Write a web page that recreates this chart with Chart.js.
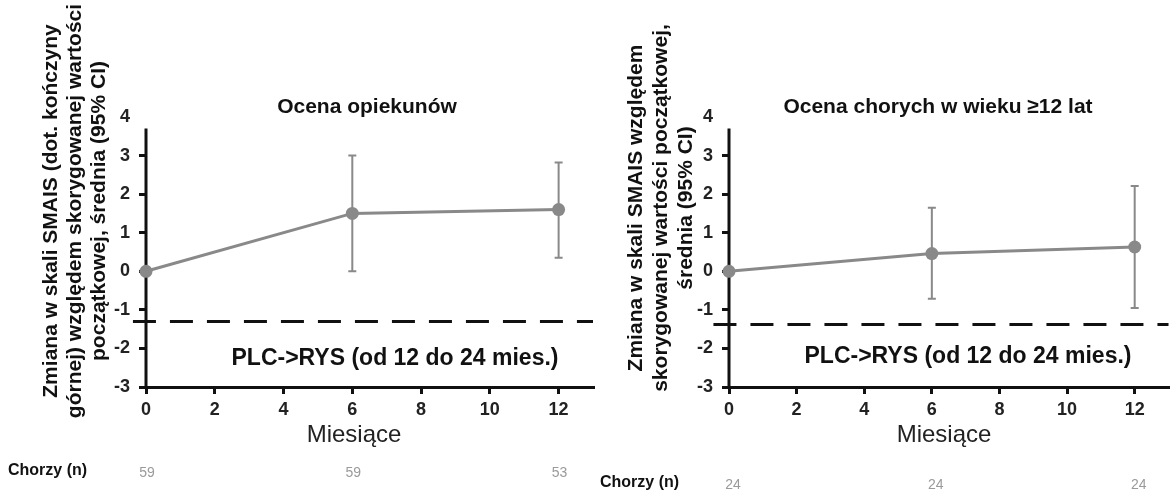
<!DOCTYPE html>
<html>
<head>
<meta charset="utf-8">
<script src="https://cdn.jsdelivr.net/npm/chart.js@4.4.1/dist/chart.umd.min.js"></script>
<style>
  html, body { margin: 0; padding: 0; background: #fff; }
  #wrap { position: relative; width: 1175px; height: 495px; overflow: hidden; }
  #left { position: absolute; left: 0; top: 0; }
  #right { position: absolute; left: 590px; top: 0; }
</style>
</head>
<body>
<div id="wrap">
  <canvas id="left" width="600" height="495"></canvas>
  <canvas id="right" width="585" height="495"></canvas>
</div>
<script>
/* ======== DATA ======== */
const months = [0, 6, 12];
const xTicks = [0, 2, 4, 6, 8, 10, 12];
const yTicks = [-3, -2, -1, 0, 1, 2, 3, 4];

// caregiver rating (left)
const caregiverMean = [0, 1.5, 1.6];
const caregiverLow = [null, 0.0, 0.35];
const caregiverHigh = [null, 3.0, 2.82];
const caregiverN = [59, 59, 53];
const caregiverThreshold = -1.3;

// patients aged >=12 (right)
const patientMean = [0, 0.46, 0.63];
const patientLow = [null, -0.71, -0.95];
const patientHigh = [null, 1.65, 2.21];
const patientN = [24, 24, 24];
const patientThreshold = -1.38;

const FONT = "'Liberation Sans', Arial, sans-serif";
const GREY = "#898989";

function drawText(ctx, str, x, y, font, color, align) {
    ctx.save();
    ctx.font = font;
    ctx.fillStyle = color;
    ctx.textAlign = align || "center";
    ctx.textBaseline = "middle";
    ctx.fillText(str, x, y);
    ctx.restore();
}

/* plugin: y axis line, error bars, all the loose texts */
const overlay = {
    id: "overlay",
    beforeDatasetsDraw(chart) {
        const o = chart.options.plugins.overlay;
        const ctx = chart.ctx;
        const xs = chart.scales.x, ys = chart.scales.y;
        ctx.save();
        // y axis line stops a bit under 4
        ctx.strokeStyle = "#111";
        ctx.lineWidth = 3;
        ctx.beginPath();
        ctx.moveTo(xs.left, ys.getPixelForValue(-3) + 1.5);
        ctx.lineTo(xs.left, ys.getPixelForValue(3.7));
        ctx.stroke();
        // error bars
        ctx.strokeStyle = GREY;
        ctx.lineWidth = 2;
        o.low.forEach((lo, i) => {
            if (lo === null) return;
            const px = xs.getPixelForValue(months[i]);
            const y1 = ys.getPixelForValue(lo), y2 = ys.getPixelForValue(o.high[i]);
            ctx.beginPath();
            ctx.moveTo(px, y1); ctx.lineTo(px, y2);
            ctx.moveTo(px - 4, y1); ctx.lineTo(px + 4, y1);
            ctx.moveTo(px - 4, y2); ctx.lineTo(px + 4, y2);
            ctx.stroke();
        });
        ctx.restore();
    },
    afterDraw(chart) {
        const o = chart.options.plugins.overlay;
        const ctx = chart.ctx;
        const xs = chart.scales.x;
        drawText(ctx, o.title, o.titlePos[0], o.titlePos[1], "bold 21px " + FONT, "#111");
        drawText(ctx, "PLC->RYS (od 12 do 24 mies.)", o.notePos[0], o.notePos[1], "bold 23px " + FONT, "#111");
        drawText(ctx, "Miesiące", o.xTitlePos[0], o.xTitlePos[1], "24px " + FONT, "#222");
        drawText(ctx, "Chorzy (n)", o.nLabelPos[0], o.nLabelPos[1], "bold 16px " + FONT, "#111", "left");
        o.n.forEach((v, i) => {
            drawText(ctx, String(v), xs.getPixelForValue(months[i]) + o.nShift, o.nLabelPos[1] + 2, "14px " + FONT, "#9a9a9a");
        });
        // rotated y title
        ctx.save();
        ctx.font = "bold 21px " + FONT;
        ctx.fillStyle = "#111";
        ctx.textAlign = "center";
        ctx.textBaseline = "middle";
        o.yTitle.forEach((line, i) => {
            ctx.save();
            ctx.translate(o.yTitleX[i], o.yTitleY);
            ctx.rotate(-Math.PI / 2);
            ctx.fillText(line, 0, 0);
            ctx.restore();
        });
        ctx.restore();
    }
};

function makeChart(id, mean, threshold, dashFrom, ov, padLeft, padRight) {
    const ctx = document.getElementById(id).getContext("2d");
    return new Chart(ctx, {
        type: "line",
        data: {
            datasets: [{
                data: months.map((m, i) => ({ x: m, y: mean[i] })),
                borderColor: GREY,
                borderWidth: 3,
                pointRadius: 6.5,
                pointBackgroundColor: GREY,
                pointBorderColor: GREY,
                pointBorderWidth: 0,
                clip: false,
                fill: false
            }, {
                data: [{ x: dashFrom, y: threshold }, { x: 13, y: threshold }],
                borderColor: "#111",
                borderWidth: 3,
                borderDash: [23, 14],
                pointRadius: 0,
                clip: false,
                fill: false
            }]
        },
        options: {
            responsive: false,
            animation: false,
            layout: { padding: { left: padLeft, right: padRight, top: 117, bottom: 78 } },
            scales: {
                x: {
                    type: "linear",
                    min: 0,
                    max: 13,
                    afterBuildTicks: (sc) => { sc.ticks = xTicks.map(v => ({ value: v })); },
                    afterFit: (sc) => { sc.height = 30; },
                    border: { display: true, color: "#111", width: 3 },
                    grid: { drawOnChartArea: false, drawTicks: true, tickLength: 7, color: "#111", lineWidth: 3 },
                    ticks: { font: { family: FONT, size: 18, weight: "bold" }, color: "#222", padding: 5, maxRotation: 0 }
                },
                y: {
                    type: "linear",
                    min: -3,
                    max: 4,
                    afterBuildTicks: (sc) => { sc.ticks = yTicks.map(v => ({ value: v })); },
                    afterFit: (sc) => { sc.width = 40; },
                    border: { display: false },
                    grid: {
                        drawOnChartArea: false, drawTicks: true, tickLength: 7, lineWidth: 3,
                        color: (c) => (c.tick && c.tick.value === 4) ? "rgba(0,0,0,0)" : "#111"
                    },
                    ticks: { font: { family: FONT, size: 18, weight: "bold" }, color: "#222", padding: 9 }
                }
            },
            plugins: {
                legend: { display: false },
                tooltip: { enabled: false },
                overlay: ov
            }
        },
        plugins: [overlay]
    });
}

makeChart("left", caregiverMean, caregiverThreshold, -0.38, {
    title: "Ocena opiekunów",
    titlePos: [367, 107],
    notePos: [395, 359],
    xTitlePos: [354, 435],
    nLabelPos: [8, 471],
    nShift: 1,
    n: caregiverN,
    low: caregiverLow,
    high: caregiverHigh,
    yTitle: ["Zmiana w skali SMAIS (dot. kończyny", "górnej) względem skorygowanej wartości", "początkowej, średnia (95% CI)"],
    yTitleX: [51, 75, 99],
    yTitleY: 211
}, 106, 7);

makeChart("right", patientMean, patientThreshold, -0.46, {
    title: "Ocena chorych w wieku ≥12 lat",
    titlePos: [348, 107],
    notePos: [378, 357],
    xTitlePos: [354, 435],
    nLabelPos: [10, 483],
    nShift: 4,
    n: patientN,
    low: patientLow,
    high: patientHigh,
    yTitle: ["Zmiana w skali SMAIS względem", "skorygowanej wartości początkowej,", "średnia (95% CI)"],
    yTitleX: [46, 71, 96],
    yTitleY: 208
}, 99, 0);
</script>
</body>
</html>
